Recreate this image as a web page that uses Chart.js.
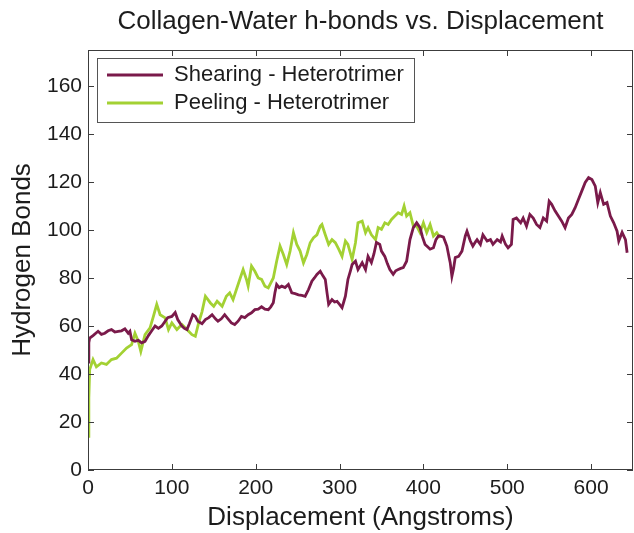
<!DOCTYPE html>
<html>
<head>
<meta charset="utf-8">
<title>Collagen-Water h-bonds vs. Displacement</title>
<script src="https://cdn.jsdelivr.net/npm/chart.js@4.4.1/dist/chart.umd.min.js"></script>
<style>
  html, body { margin: 0; padding: 0; background: #ffffff; }
  #wrap { width: 634px; height: 533px; }
</style>
</head>
<body>
<div id="wrap"><canvas id="chart" width="634" height="533"></canvas></div>
<script>
// Axis ticks
const xTicks = [0, 100, 200, 300, 400, 500, 600];
const yTicks = [0, 20, 40, 60, 80, 100, 120, 140, 160];

// Shearing - Heterotrimer: displacement (Å) and hydrogen bond count
const shearX = [0, 1, 2, 6, 12, 16, 20, 24, 28, 32, 36, 40, 44, 48, 50, 52, 56, 60, 64, 68,
  72, 76, 80, 84, 88, 92, 95, 100, 104, 107, 110, 112, 115, 118, 121, 125, 128, 131, 136, 140,
  144, 148, 152, 155, 159, 163, 167, 171, 175, 179, 183, 187, 191, 195, 199, 203, 207, 211, 215, 218,
  221, 223, 225, 228, 231, 235, 239, 243, 247, 251, 255, 259, 263, 267, 270, 273, 277, 280, 283, 285,
  287, 291, 294, 297, 300, 303, 305, 307, 310, 313, 315, 319, 322, 327, 331, 334, 338, 341, 344, 348,
  350, 354, 357, 360, 364, 367, 370, 373, 376, 380, 384, 388, 392, 396, 399, 402, 405, 408, 412, 415,
  418, 420, 424, 428, 431, 432, 434, 436, 438, 442, 446, 450, 452, 456, 459, 462, 464, 468, 471, 476,
  480, 483, 488, 492, 494, 498, 501, 505, 507, 511, 516, 519, 523, 527, 531, 535, 539, 543, 547, 550,
  553, 557, 561, 565, 569, 573, 577, 581, 585, 589, 593, 597, 601, 605, 608, 611, 615, 619, 623, 627,
  631, 633, 637, 641, 643];
const shearY = [45, 53, 55, 56, 57.8, 56.5, 57, 58, 58.5, 57.5, 57.8, 58, 58.8, 57, 57.8, 54.3, 53.6, 54, 53, 53.6,
  56, 58, 60, 59, 60, 62, 63.5, 64, 65.6, 62.7, 61, 60, 59, 58.5, 61, 64.7, 64, 62, 61, 62.7,
  63.5, 64.7, 63, 62, 63, 64.7, 63, 61.3, 60.6, 62, 64, 63.5, 64.7, 65.5, 66.8, 67, 68, 67, 66.8, 68,
  69.7, 74, 77.3, 76, 76.6, 76, 77.3, 73.8, 73.5, 73, 72.8, 72.4, 75.2, 78.7, 80, 81.5, 82.8, 81, 79.4, 74,
  69, 71, 70, 70.3, 69, 67.6, 70, 72.4, 79.4, 83, 85.6, 87, 83.5, 86.4, 83.5, 89, 86.4, 90, 94.8, 94,
  91.2, 89, 86, 83.5, 81.5, 83, 83.5, 84, 84.3, 87, 96, 101, 103, 101, 97, 94, 93, 92, 92.6, 96,
  97.5, 97.5, 97, 93.3, 88, 86.4, 80.7, 84, 88.5, 89, 91.2, 97.5, 99.5, 95.4, 93.3, 95, 96, 94, 98, 95.4,
  96, 94, 96, 95, 97.5, 94, 92.6, 94, 104.4, 105, 103, 105, 101.6, 106.5, 105, 102.3, 101, 105, 103.7, 112,
  110.7, 108, 105.8, 103.7, 101, 105, 106.5, 109.3, 112.8, 116.3, 119.8, 121.8, 121, 118.3, 111.4, 115.6, 110.7, 111.4, 105.8, 103,
  99.5, 95.4, 99, 96, 90.5];

// Peeling - Heterotrimer: displacement (Å) and hydrogen bond count
const peelX = [0, 1, 2, 6, 10, 16, 22, 28, 34, 40, 46, 52, 56, 60, 63, 68, 74, 78, 82, 86,
  92, 96, 100, 106, 112, 118, 124, 128, 132, 136, 140, 146, 150, 154, 160, 165, 169, 173, 177, 181,
  185, 189, 191, 195, 199, 203, 207, 211, 215, 221, 225, 229, 233, 237, 241, 245, 249, 253, 257, 261,
  265, 269, 273, 277, 279, 283, 287, 291, 295, 299, 303, 307, 310, 315, 319, 322, 327, 331, 334, 338,
  343, 346, 350, 354, 358, 362, 366, 370, 374, 377, 380, 384, 388, 392, 396, 400, 404, 408, 412, 416,
  420];
const peelY = [14, 30, 41.8, 46, 43, 44.6, 44, 46, 46.6, 48.7, 50.8, 52.2, 57, 53.6, 49.4, 56.4, 59.2, 64, 69, 64.7,
  63.4, 58.5, 61.3, 58.5, 60.6, 58.5, 56.4, 55.7, 61.3, 66, 72.4, 69.6, 68.2, 70.3, 68.2, 72.4, 73.8, 71, 75.2, 79.4,
  83.5, 79.4, 76.6, 85, 82.8, 80, 79.4, 76.6, 75.9, 80, 87, 93.3, 89.8, 85.6, 91.2, 98.9, 94, 91.2, 86.3, 89.8,
  94.7, 96.8, 98, 101.6, 102.3, 98, 94, 96, 94.7, 92, 89, 95.4, 94, 87.7, 94.7, 103, 103.7, 98.9, 101, 98,
  96, 101, 100.3, 103, 102.3, 104.4, 105.8, 107.2, 106.5, 110, 105.8, 107.2, 101.6, 101.6, 98.9, 103, 98.9, 102.3, 97.5, 98.9,
  96.8];

const FONT = "'Liberation Sans', Arial, Helvetica, sans-serif";
const TEXT = '#1c1c1c';
const AXIS = '#3c3c3c';
const SHEAR_COLOR = '#7a1a4a';
const PEEL_COLOR = '#a3d133';

Chart.defaults.font.family = FONT;
Chart.defaults.color = TEXT;

const pairs = (xs, ys) => xs.map((x, i) => ({ x: x, y: ys[i] }));
const fixedTicks = list => scale => { scale.ticks = list.map(v => ({ value: v })); };

// Plot box with inward tick marks on all four sides, plus the legend frame
const frame = {
  id: 'frame',
  afterLayout(chart) {
    const lg = chart.legend;
    const a = chart.chartArea;
    const w = lg.width, h = lg.height;
    lg.left = a.left + 13;
    lg.top = a.top + 8;
    lg.right = lg.left + w;
    lg.bottom = lg.top + h;
  },
  afterDraw(chart) {
    const { ctx, chartArea: a, scales } = chart;
    const sx = scales.x, sy = scales.y;
    ctx.save();
    ctx.strokeStyle = AXIS;
    ctx.lineWidth = 1;
    ctx.strokeRect(a.left + 0.5, a.top + 0.5, a.right - a.left - 1, a.bottom - a.top - 1);
    const len = 6;
    ctx.beginPath();
    xTicks.forEach(v => {
      const px = Math.round(sx.getPixelForValue(v)) + 0.5;
      ctx.moveTo(px, a.bottom); ctx.lineTo(px, a.bottom - len);
      ctx.moveTo(px, a.top); ctx.lineTo(px, a.top + len);
    });
    yTicks.forEach(v => {
      const py = Math.round(sy.getPixelForValue(v)) + 0.5;
      ctx.moveTo(a.left, py); ctx.lineTo(a.left + len, py);
      ctx.moveTo(a.right, py); ctx.lineTo(a.right - len, py);
    });
    ctx.stroke();

    // legend frame
    const lg = chart.legend;
    const lo = lg.options.labels;
    ctx.font = lo.font.size + 'px ' + FONT;
    let tw = 0;
    chart.data.datasets.forEach(d => { tw = Math.max(tw, ctx.measureText(d.label).width); });
    const fs = lo.font.size;
    const x0 = lg.left - 4;
    const y0 = lg.top;
    const x1 = lg.left + lo.padding + lo.pointStyleWidth + fs / 2 + tw + 10;
    const rows = chart.data.datasets.length;
    const y1 = lg.top + lo.padding + rows * fs + (rows - 1) * lo.padding + 8;
    ctx.strokeStyle = '#555555';
    ctx.strokeRect(Math.round(x0) + 0.5, Math.round(y0) + 0.5, Math.round(x1 - x0), Math.round(y1 - y0));
    ctx.restore();
  }
};

new Chart(document.getElementById('chart'), {
  type: 'line',
  data: {
    datasets: [
      {
        label: 'Shearing - Heterotrimer',
        data: pairs(shearX, shearY),
        borderColor: SHEAR_COLOR,
        backgroundColor: SHEAR_COLOR,
        borderWidth: 2.8,
        pointRadius: 0,
        tension: 0,
        fill: false
      },
      {
        label: 'Peeling - Heterotrimer',
        data: pairs(peelX, peelY),
        borderColor: PEEL_COLOR,
        backgroundColor: PEEL_COLOR,
        borderWidth: 2.8,
        pointRadius: 0,
        tension: 0,
        fill: false
      }
    ]
  },
  options: {
    responsive: false,
    animation: false,
    layout: { padding: { left: 0, right: 1, top: 0, bottom: 0 } },
    plugins: {
      title: { display: false },
      tooltip: { enabled: false },
      legend: {
        display: true,
        position: 'chartArea',
        align: 'start',
        labels: {
          usePointStyle: true,
          pointStyle: 'line',
          pointStyleWidth: 56,
          padding: 6,
          color: TEXT,
          font: { size: 22, lineHeight: 1 }
        }
      }
    },
    scales: {
      x: {
        type: 'linear',
        position: 'bottom',
        min: 0,
        max: 650,
        afterBuildTicks: fixedTicks(xTicks),
        afterFit: s => { s.height = 63; },
        grid: { display: false, drawTicks: false },
        border: { display: false },
        ticks: { font: { size: 21 }, color: TEXT, padding: 6, maxRotation: 0, autoSkip: false },
        title: {
          display: true,
          text: 'Displacement (Angstroms)',
          color: TEXT,
          font: { size: 26, lineHeight: 1 },
          padding: { top: 2, bottom: 2 }
        }
      },
      xTop: {
        type: 'linear',
        position: 'top',
        min: 0,
        max: 650,
        afterFit: s => { s.height = 50; },
        grid: { display: false, drawTicks: false },
        border: { display: false },
        ticks: { display: false },
        title: {
          display: true,
          text: 'Collagen-Water h-bonds vs. Displacement',
          color: TEXT,
          font: { size: 26, lineHeight: 1 },
          padding: { top: 9, bottom: 0 }
        }
      },
      y: {
        type: 'linear',
        position: 'left',
        min: 0,
        max: 175,
        afterBuildTicks: fixedTicks(yTicks),
        afterFit: s => { s.width = 88; },
        grid: { display: false, drawTicks: false },
        border: { display: false },
        ticks: { font: { size: 21 }, color: TEXT, padding: 6, autoSkip: false },
        title: {
          display: true,
          text: 'Hydrogen Bonds',
          color: TEXT,
          font: { size: 26, lineHeight: 1 },
          padding: { top: 10, bottom: 0 }
        }
      }
    }
  },
  plugins: [frame]
});
</script>
</body>
</html>
